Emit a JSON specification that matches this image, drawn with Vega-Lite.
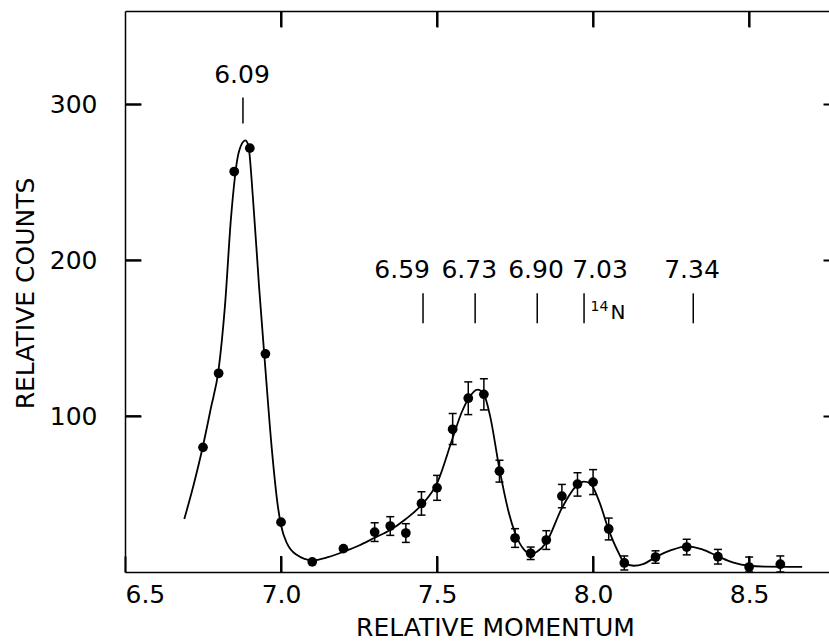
{
  "$schema": "https://vega.github.io/schema/vega-lite/v6.json",
  "autosize": "none",
  "width": 714,
  "height": 561,
  "padding": {"left": 125, "top": 11, "right": 0, "bottom": 69},
  "background": "white",
  "config": {
    "view": {"stroke": null},
    "font": "DejaVu Sans",
    "axis": {
      "domainColor": "black", "domainWidth": 1.5,
      "labelColor": "black", "labelFontSize": 25, "labelFont": "DejaVu Sans",
      "titleColor": "black", "titleFontSize": 25, "titleFont": "DejaVu Sans", "titleFontWeight": "normal",
      "grid": false
    }
  },
  "datasets": {
    "curve": [
      {"x": 6.69, "y": 34}, {"x": 6.72, "y": 56}, {"x": 6.75, "y": 81}, {"x": 6.775, "y": 105},
      {"x": 6.80, "y": 130}, {"x": 6.82, "y": 170}, {"x": 6.84, "y": 228}, {"x": 6.86, "y": 265},
      {"x": 6.875, "y": 275}, {"x": 6.885, "y": 277}, {"x": 6.895, "y": 274}, {"x": 6.91, "y": 240},
      {"x": 6.93, "y": 182}, {"x": 6.95, "y": 130}, {"x": 6.97, "y": 80}, {"x": 6.99, "y": 42},
      {"x": 7.00, "y": 30}, {"x": 7.02, "y": 18}, {"x": 7.05, "y": 11}, {"x": 7.10, "y": 7.5},
      {"x": 7.15, "y": 9.5}, {"x": 7.20, "y": 13}, {"x": 7.25, "y": 17}, {"x": 7.30, "y": 22},
      {"x": 7.35, "y": 27}, {"x": 7.40, "y": 34}, {"x": 7.45, "y": 43}, {"x": 7.50, "y": 57},
      {"x": 7.55, "y": 86}, {"x": 7.58, "y": 103}, {"x": 7.60, "y": 111}, {"x": 7.63, "y": 117},
      {"x": 7.65, "y": 114}, {"x": 7.67, "y": 100}, {"x": 7.70, "y": 66}, {"x": 7.73, "y": 38},
      {"x": 7.75, "y": 25}, {"x": 7.78, "y": 14}, {"x": 7.80, "y": 11.5}, {"x": 7.82, "y": 13},
      {"x": 7.85, "y": 19}, {"x": 7.90, "y": 41}, {"x": 7.95, "y": 56}, {"x": 7.97, "y": 58},
      {"x": 7.99, "y": 57}, {"x": 8.02, "y": 45}, {"x": 8.05, "y": 27}, {"x": 8.08, "y": 13},
      {"x": 8.10, "y": 6}, {"x": 8.13, "y": 4}, {"x": 8.16, "y": 5}, {"x": 8.20, "y": 9.5},
      {"x": 8.25, "y": 14}, {"x": 8.30, "y": 16.5}, {"x": 8.35, "y": 14.5}, {"x": 8.40, "y": 10},
      {"x": 8.45, "y": 6}, {"x": 8.50, "y": 4}, {"x": 8.55, "y": 3.5}, {"x": 8.67, "y": 3.3}
    ],
    "points": [
      {"x": 6.75, "y": 80}, {"x": 6.80, "y": 127.5}, {"x": 6.85, "y": 257}, {"x": 6.90, "y": 272},
      {"x": 6.95, "y": 140}, {"x": 7.00, "y": 32}, {"x": 7.10, "y": 6.5}, {"x": 7.20, "y": 15},
      {"x": 7.30, "y": 25.6}, {"x": 7.35, "y": 29.5}, {"x": 7.40, "y": 25}, {"x": 7.45, "y": 44},
      {"x": 7.50, "y": 54}, {"x": 7.55, "y": 91.6}, {"x": 7.60, "y": 111.5}, {"x": 7.65, "y": 114},
      {"x": 7.70, "y": 64.7}, {"x": 7.75, "y": 21.8}, {"x": 7.80, "y": 12}, {"x": 7.85, "y": 20.5},
      {"x": 7.90, "y": 48.7}, {"x": 7.95, "y": 56.4}, {"x": 8.00, "y": 57.7}, {"x": 8.05, "y": 27.6},
      {"x": 8.10, "y": 5.8}, {"x": 8.20, "y": 9.6}, {"x": 8.30, "y": 16}, {"x": 8.40, "y": 9.8},
      {"x": 8.50, "y": 3.2}, {"x": 8.60, "y": 5}
    ],
    "errors": [
      {"x": 7.30, "lo": 19.6, "hi": 31.6}, {"x": 7.35, "lo": 23.5, "hi": 35.5},
      {"x": 7.40, "lo": 19, "hi": 31}, {"x": 7.45, "lo": 36.5, "hi": 51.5},
      {"x": 7.50, "lo": 46, "hi": 62}, {"x": 7.55, "lo": 81.8, "hi": 101.7},
      {"x": 7.60, "lo": 101, "hi": 122}, {"x": 7.65, "lo": 104, "hi": 124},
      {"x": 7.70, "lo": 57.7, "hi": 71.7}, {"x": 7.75, "lo": 15.8, "hi": 27.8},
      {"x": 7.80, "lo": 8, "hi": 16}, {"x": 7.85, "lo": 14.5, "hi": 26.5},
      {"x": 7.90, "lo": 41.2, "hi": 56.2}, {"x": 7.95, "lo": 48.7, "hi": 63.7},
      {"x": 8.00, "lo": 49.7, "hi": 65.7}, {"x": 8.05, "lo": 20.6, "hi": 34.6},
      {"x": 8.10, "lo": 1.3, "hi": 10.3}, {"x": 8.20, "lo": 5.6, "hi": 13.6},
      {"x": 8.30, "lo": 11, "hi": 21}, {"x": 8.40, "lo": 5.1, "hi": 14.5},
      {"x": 8.50, "lo": 0, "hi": 9.6}, {"x": 8.60, "lo": 0, "hi": 10.3}
    ],
    "frameTicks": [
      {"x1": 7.0, "x2": 7.0, "y1": 0, "y2": 10.3}, {"x1": 7.5, "x2": 7.5, "y1": 0, "y2": 10.3},
      {"x1": 8.0, "x2": 8.0, "y1": 0, "y2": 10.3}, {"x1": 8.5, "x2": 8.5, "y1": 0, "y2": 10.3},
      {"x1": 7.0, "x2": 7.0, "y1": 349.7, "y2": 360}, {"x1": 7.5, "x2": 7.5, "y1": 349.7, "y2": 360},
      {"x1": 8.0, "x2": 8.0, "y1": 349.7, "y2": 360}, {"x1": 8.5, "x2": 8.5, "y1": 349.7, "y2": 360},
      {"x1": 6.5, "x2": 6.551, "y1": 100, "y2": 100}, {"x1": 6.5, "x2": 6.551, "y1": 200, "y2": 200},
      {"x1": 6.5, "x2": 6.551, "y1": 300, "y2": 300}
    ],
    "levels": [
      {"label": "6.09", "x": 6.878, "y1": 287.8, "y2": 304.5, "tx": 6.875, "ty": 314},
      {"label": "6.59", "x": 7.455, "y1": 159.6, "y2": 178.8, "tx": 7.388, "ty": 188.5},
      {"label": "6.73", "x": 7.622, "y1": 159.6, "y2": 178.8, "tx": 7.603, "ty": 188.5},
      {"label": "6.90", "x": 7.821, "y1": 159.6, "y2": 178.8, "tx": 7.817, "ty": 188.5},
      {"label": "7.03", "x": 7.971, "y1": 159.6, "y2": 178.8, "tx": 8.022, "ty": 188.5},
      {"label": "7.34", "x": 8.321, "y1": 159.6, "y2": 178.8, "tx": 8.317, "ty": 188.5}
    ],
    "nitrogen": [
      {"text": "14", "x": 7.992, "y": 167.5, "size": 14},
      {"text": "N", "x": 8.056, "y": 162.5, "size": 20}
    ]
  },
  "resolve": {"axis": {"x": "independent", "y": "independent"}},
  "layer": [
    {
      "data": {"name": "curve"},
      "mark": {"type": "line", "color": "black", "strokeWidth": 1.8, "interpolate": "monotone"},
      "encoding": {
        "x": {"field": "x", "type": "quantitative",
              "scale": {"domain": [6.5, 8.788], "nice": false, "zero": false},
              "axis": {"orient": "bottom", "values": [6.5, 7.0, 7.5, 8.0, 8.5], "format": ".1f",
                       "tickSize": -16, "tickColor": "black", "tickWidth": 2,
                       "labelBaseline": "alphabetic", "labelPadding": 46,
                       "title": "RELATIVE MOMENTUM",
                       "titleX": 370, "titleY": 63, "titleBaseline": "alphabetic", "titleAnchor": "middle"}},
        "y": {"field": "y", "type": "quantitative",
              "scale": {"domain": [0, 360], "nice": false, "zero": false},
              "axis": {"orient": "left", "values": [100, 200, 300],
                       "tickSize": -16, "tickColor": "black", "tickWidth": 2, "labelPadding": 44,
                       "title": "RELATIVE COUNTS", "titleX": -92, "titleY": 282,
                       "titleBaseline": "alphabetic", "titleAngle": -90}}
      }
    },
    {
      "data": {"name": "points"},
      "mark": {"type": "point", "filled": true, "color": "black", "opacity": 1, "size": 95},
      "encoding": {
        "x": {"field": "x", "type": "quantitative",
              "axis": {"orient": "top", "values": [7.0, 7.5, 8.0, 8.5], "tickSize": -16, "tickColor": "black", "tickWidth": 2,
                       "labels": false, "title": null}},
        "y": {"field": "y", "type": "quantitative",
              "axis": {"orient": "right", "values": [100, 200, 300], "tickSize": -16, "tickColor": "black", "tickWidth": 2,
                       "labels": false, "title": null}}
      }
    },
    {
      "data": {"name": "frameTicks"},
      "mark": {"type": "rule", "color": "black", "strokeWidth": 2},
      "encoding": {
        "x": {"field": "x1", "type": "quantitative", "axis": null},
        "x2": {"field": "x2"},
        "y": {"field": "y1", "type": "quantitative", "axis": null},
        "y2": {"field": "y2"}
      }
    },
    {
      "data": {"name": "errors"},
      "mark": {"type": "rule", "color": "black", "strokeWidth": 1.5},
      "encoding": {
        "x": {"field": "x", "type": "quantitative", "axis": null},
        "y": {"field": "lo", "type": "quantitative", "axis": null},
        "y2": {"field": "hi"}
      }
    },
    {
      "data": {"name": "errors"},
      "mark": {"type": "tick", "orient": "horizontal", "color": "black", "thickness": 1.5, "size": 8, "opacity": 1},
      "encoding": {
        "x": {"field": "x", "type": "quantitative", "axis": null},
        "y": {"field": "lo", "type": "quantitative", "axis": null}
      }
    },
    {
      "data": {"name": "errors"},
      "mark": {"type": "tick", "orient": "horizontal", "color": "black", "thickness": 1.5, "size": 8, "opacity": 1},
      "encoding": {
        "x": {"field": "x", "type": "quantitative", "axis": null},
        "y": {"field": "hi", "type": "quantitative", "axis": null}
      }
    },
    {
      "data": {"name": "levels"},
      "mark": {"type": "rule", "color": "black", "strokeWidth": 1.5},
      "encoding": {
        "x": {"field": "x", "type": "quantitative", "axis": null},
        "y": {"field": "y1", "type": "quantitative", "axis": null},
        "y2": {"field": "y2"}
      }
    },
    {
      "data": {"name": "levels"},
      "mark": {"type": "text", "color": "black", "fontSize": 25, "font": "DejaVu Sans", "baseline": "alphabetic", "align": "center"},
      "encoding": {
        "x": {"field": "tx", "type": "quantitative", "axis": null},
        "y": {"field": "ty", "type": "quantitative", "axis": null},
        "text": {"field": "label"}
      }
    },
    {
      "data": {"name": "nitrogen"},
      "mark": {"type": "text", "color": "black", "font": "DejaVu Sans", "baseline": "alphabetic", "align": "left"},
      "encoding": {
        "x": {"field": "x", "type": "quantitative", "axis": null},
        "y": {"field": "y", "type": "quantitative", "axis": null},
        "text": {"field": "text"},
        "size": {"field": "size", "type": "quantitative", "scale": null, "legend": null}
      }
    }
  ]
}
